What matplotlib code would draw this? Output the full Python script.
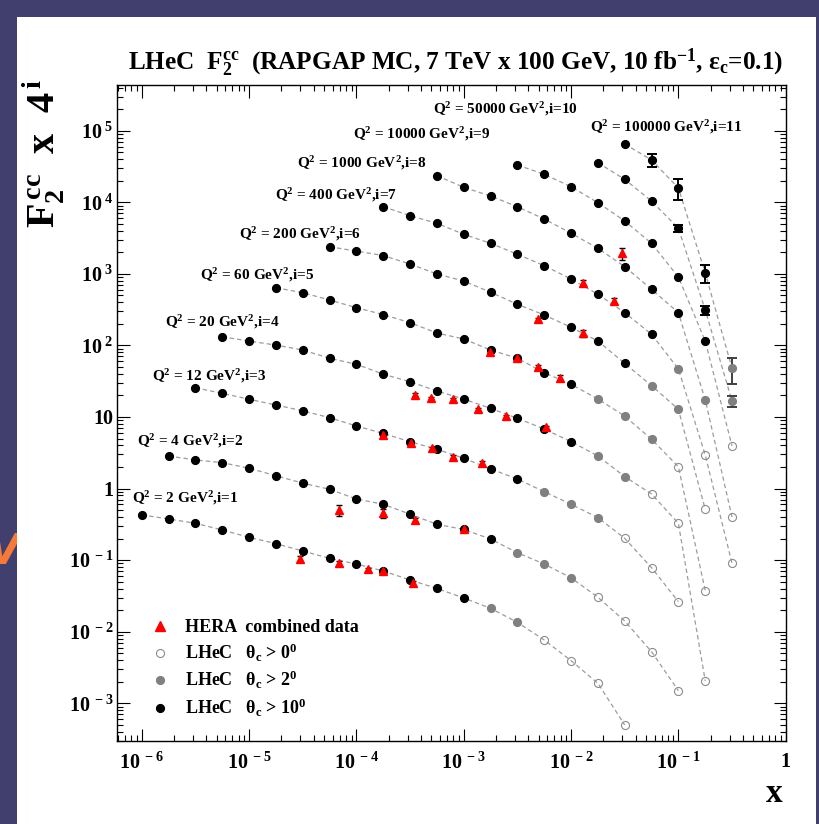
import numpy as np
import matplotlib
matplotlib.use("Agg")
import matplotlib.pyplot as plt
from matplotlib.patches import Rectangle
from matplotlib.lines import Line2D
from matplotlib.ticker import FixedLocator, FixedFormatter, LogLocator, NullFormatter

plt.rcParams.update({
    "font.family": "Liberation Serif",
    "font.weight": "bold",
    "mathtext.fontset": "custom",
    "mathtext.rm": "Liberation Serif:bold",
    "mathtext.it": "Liberation Serif:bold",
    "mathtext.bf": "Liberation Serif:bold",
    "mathtext.default": "rm",
})

# ---------------- data ----------------
# common x binning (quarter decades)
X_GRID = [1.0e-6, 1.78e-6, 3.16e-6, 5.62e-6, 1.0e-5, 1.78e-5, 3.16e-5, 5.62e-5,
          1.0e-4, 1.78e-4, 3.16e-4, 5.62e-4, 1.0e-3, 1.78e-3, 3.16e-3, 5.62e-3,
          1.0e-2, 1.78e-2, 3.16e-2, 5.62e-2, 0.1, 0.178, 0.316]

Q2 = [2, 4, 12, 20, 60, 200, 400, 1000, 10000, 50000, 100000]
FIRST_BIN = [0, 1, 2, 3, 5, 7, 9, 11, 14, 17, 18]

# F2cc x 4^i, one list per Q2 bin
f2_q2_2 = [0.428, 0.376, 0.327, 0.264, 0.208, 0.170, 0.134, 0.106, 0.0883, 0.0705,
           0.0528, 0.0402, 0.0296, 0.0212, 0.0135, 0.00766, 0.00394, 0.00190, 0.000498]
f2_q2_4 = [2.85, 2.51, 2.30, 1.92, 1.51, 1.19, 0.977, 0.715, 0.603, 0.438,
           0.317, 0.268, 0.197, 0.127, 0.0883, 0.0566, 0.0303, 0.0141, 0.00526, 0.00150]
f2_q2_12 = [25.6, 21.4, 17.7, 14.7, 12.2, 9.78, 7.48, 5.88, 4.52, 3.54,
            2.65, 1.88, 1.36, 0.904, 0.603, 0.392, 0.202, 0.0785, 0.0263]
f2_q2_20 = [132, 115, 101, 86.3, 66.1, 54.5, 39.6, 31.1, 23.1, 17.8,
            13.2, 9.59, 6.79, 4.52, 2.85, 1.47, 0.840, 0.327, 0.00205]
f2_q2_60 = [640, 545, 431, 337, 269, 208, 149, 123, 86.3, 66.1,
            41.6, 28.6, 17.8, 10.3, 4.88, 2.02, 0.0374]
f2_q2_200 = [2390, 2080, 1800, 1370, 995, 794, 552, 376, 266, 179,
             115, 56.2, 27.4, 12.8, 0.513]
f2_q2_400 = [8670, 6490, 5080, 3570, 2670, 1880, 1300, 847, 518, 287,
             143, 46.9, 2.94, 0.0904]
f2_q2_1000 = [23500, 16200, 12200, 8670, 5840, 3690, 2270, 1260, 608, 287, 17.3, 0.401]
f2_q2_10000 = [33200, 24600, 16500, 9860, 5480, 2670, 904, 115, 3.94]
f2_q2_50000 = [35700, 20900, 10400, 4330, 313, 16.7]
f2_q2_100000 = [65200, 39000, 15800, 1030, 47.9]

# statistical errors (only visible at the highest Q2)
err_q2_50000 = [0, 0, 0, 520, 44, 2.8]
err_q2_100000 = [0, 7800, 5060, 290, 18.7]

# smallest charm angle cut (deg) each point survives: 10, 2 or 0
theta_q2_2 = [10] * 13 + [2] * 2 + [0] * 4
theta_q2_4 = [10] * 13 + [2] * 3 + [0] * 4
theta_q2_12 = [10] * 13 + [2] * 3 + [0] * 3
theta_q2_20 = [10] * 14 + [2] * 2 + [0] * 3
theta_q2_60 = [10] * 12 + [2] * 3 + [0] * 2
theta_q2_200 = [10] * 12 + [2] * 2 + [0] * 1
theta_q2_400 = [10] * 11 + [2] * 1 + [0] * 2
theta_q2_1000 = [10] * 10 + [2] * 1 + [0] * 1
theta_q2_10000 = [10] * 8 + [0] * 1
theta_q2_50000 = [10] * 5 + [2] * 1
theta_q2_100000 = [10] * 4 + [2] * 1

F2 = [f2_q2_2, f2_q2_4, f2_q2_12, f2_q2_20, f2_q2_60, f2_q2_200, f2_q2_400,
      f2_q2_1000, f2_q2_10000, f2_q2_50000, f2_q2_100000]
THETA = [theta_q2_2, theta_q2_4, theta_q2_12, theta_q2_20, theta_q2_60, theta_q2_200,
         theta_q2_400, theta_q2_1000, theta_q2_10000, theta_q2_50000, theta_q2_100000]
ERR = [None] * 9 + [err_q2_50000, err_q2_100000]

# HERA combined charm data, scaled with the same 4^i
hera_x = [3.0e-5, 6.9e-5, 6.9e-5, 1.27e-4, 1.78e-4, 1.78e-4, 1.78e-4, 3.2e-4, 3.4e-4,
          3.5e-4, 3.5e-4, 5.0e-4, 5.06e-4, 7.9e-4, 7.9e-4, 1.0e-3, 1.35e-3, 1.49e-3,
          1.77e-3, 2.5e-3, 3.14e-3, 4.95e-3, 4.95e-3, 5.9e-3, 7.9e-3, 1.28e-2,
          1.28e-2, 2.5e-2, 2.98e-2]
hera_f2 = [0.103, 0.502, 0.0904, 0.0745, 0.452, 0.0694, 5.61, 4.29, 0.0475,
           0.364, 20.5, 18.4, 3.66, 17.7, 2.79, 0.270, 12.9, 2.28,
           81.7, 10.2, 67.3, 232, 50.5, 7.13, 35.4, 738,
           147, 418, 1940]
hera_err = [0.010, 0.085, 0.007, 0.004, 0.068, 0.005, 0.3, 0.2, 0.004,
            0.02, 1.0, 0.8, 0.2, 0.8, 0.15, 0.016, 0.6, 0.18,
            4, 0.5, 3, 12, 2.5, 0.4, 3, 70,
            15, 40, 380]

# ---------------- figure ----------------
fig = plt.figure(figsize=(8.19, 8.24), dpi=100, facecolor="#403f6e")
# slide background behind the white panel
fig.text(4 / 819, 1 - 552 / 824, "V", color="#f47a3a", fontsize=30, fontweight="bold",
         style="italic", family="DejaVu Sans", ha="center", va="center", zorder=-2)
fig.patches.append(Rectangle((17 / 819, 0), 799 / 819, 807 / 824, transform=fig.transFigure,
                             facecolor="white", edgecolor="none", zorder=-1))

ax = fig.add_axes([117.5 / 819, 83 / 824, 668.2 / 819, 656 / 824])
ax.set_xscale("log")
ax.set_yscale("log")
ax.set_xlim(5.94e-7, 1.0)
ax.set_ylim(2.97e-4, 4.35e5)

STYLE = {
    10: dict(marker="o", ms=5.6, mfc="black", mec="black", ls="none"),
    2: dict(marker="o", ms=5.6, mfc="#808080", mec="#808080", ls="none"),
    0: dict(marker="o", ms=5.8, mfc="none", mec="#8c8c8c", mew=0.8, ls="none"),
}

for q2, k0, vals, cuts, err in zip(Q2, FIRST_BIN, F2, THETA, ERR):
    xs = np.array(X_GRID[k0:k0 + len(vals)])
    ys = np.array(vals)
    cuts = np.array(cuts)
    ax.plot(xs, ys, color="#9c9c9c", lw=0.9, dashes=(3.5, 2.5), zorder=1)
    if err is not None:
        e = np.array(err, dtype=float)
        m = e > 0
        ecol = np.where(cuts[m] == 2, "#404040", "black")
        for xx, yy, ee, cc in zip(xs[m], ys[m], e[m], ecol):
            ax.errorbar(xx, yy, yerr=ee, fmt="none", ecolor=cc, elinewidth=1.4,
                        capsize=3.5, capthick=1.4, zorder=2)
    for c in (10, 2, 0):
        m = cuts == c
        ax.plot(xs[m], ys[m], zorder=3, **STYLE[c])

ax.errorbar(hera_x, hera_f2, yerr=hera_err, fmt="^", ms=6, mfc="#ff0000", mec="#ff0000",
            ecolor="black", elinewidth=1.0, capsize=2.5, capthick=1.0, zorder=4)

# Q2 bin labels
labels = [r"Q$^2$ = %d GeV$^2$,i=%d" % (q, i + 1) for i, q in enumerate(Q2)]
label_pos = [(0.0213, 0.370), (0.0287, 0.457), (0.0512, 0.556), (0.0711, 0.639),
             (0.1235, 0.710), (0.1818, 0.773), (0.2357, 0.832), (0.2686, 0.881),
             (0.3524, 0.925), (0.4722, 0.963), (0.7071, 0.936)]
for txt, (lx, ly) in zip(labels, label_pos):
    ax.text(lx, ly, txt, transform=ax.transAxes, fontsize=11, ha="left", va="center")

# ticks, ROOT-like: inside on all four sides
xmaj = [1e-6, 1e-5, 1e-4, 1e-3, 1e-2, 1e-1, 1.0]
xlab = [r"$10^{\;-6}$", r"$10^{\;-5}$", r"$10^{\;-4}$", r"$10^{\;-3}$",
        r"$10^{\;-2}$", r"$10^{\;-1}$", "1"]
ymaj = [1e-3, 1e-2, 1e-1, 1, 10, 1e2, 1e3, 1e4, 1e5]
ylab = [r"$10^{\;-3}$", r"$10^{\;-2}$", r"$10^{\;-1}$", "1", "10",
        r"$10^{\;2}$", r"$10^{\;3}$", r"$10^{\;4}$", r"$10^{\;5}$"]
ax.xaxis.set_major_locator(FixedLocator(xmaj))
ax.xaxis.set_major_formatter(FixedFormatter(xlab))
ax.yaxis.set_major_locator(FixedLocator(ymaj))
ax.yaxis.set_major_formatter(FixedFormatter(ylab))
for axis in (ax.xaxis, ax.yaxis):
    axis.set_minor_locator(LogLocator(base=10, subs=np.arange(2, 10), numticks=30))
    axis.set_minor_formatter(NullFormatter())
ax.tick_params(which="both", direction="in", top=True, right=True, width=0.8, labelsize=14.5)
ax.tick_params(which="major", length=9)
ax.tick_params(which="minor", length=4.5)
ax.tick_params(axis="x", pad=8)
ax.tick_params(axis="y", pad=3)
for s in ax.spines.values():
    s.set_linewidth(1.0)

fig.text(783 / 819, 1 - 793 / 824, "x", fontsize=24, ha="right", va="center")
fig.text(44 / 819, 1 - 153 / 824, r"F$_2^{\,cc}$  x  4$^{\,i}$", fontsize=29, rotation=90,
         ha="center", va="center")
fig.text(456 / 819, 1 - 63 / 824,
         r"LHeC  F$_2^{cc}$  (RAPGAP MC, 7 TeV x 100 GeV, 10 fb$^{-1}$, ε$_c$=0.1)",
         fontsize=18.2, ha="center", va="center")

# legend
handles = [
    Line2D([], [], ls="none", marker="^", ms=7, mfc="#ff0000", mec="#ff0000"),
    Line2D([], [], **STYLE[0]),
    Line2D([], [], **STYLE[2]),
    Line2D([], [], **STYLE[10]),
]
names = ["HERA  combined data", r"LHeC   θ$_c$ > 0$^0$", r"LHeC   θ$_c$ > 2$^0$",
         r"LHeC   θ$_c$ > 10$^0$"]
ax.legend(handles, names, loc="upper left", bbox_to_anchor=(0.05, 0.1855), frameon=False,
          fontsize=13, handlelength=1.0, handletextpad=0.9, labelspacing=0.3, borderpad=0,
          borderaxespad=0)

fig.savefig("out.png", dpi=100, facecolor=fig.get_facecolor())
